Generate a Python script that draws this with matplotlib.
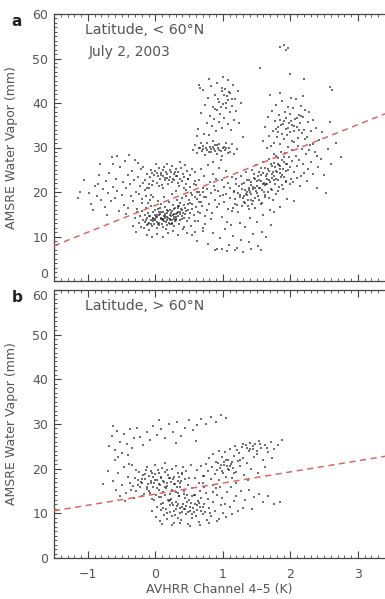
import numpy as np
import matplotlib
matplotlib.use("Agg")
import matplotlib.pyplot as plt
from matplotlib.ticker import MultipleLocator

# ---------------- data ----------------
# panel a (latitude < 60N), points (AVHRR ch4-5 [K], AMSRE WV [mm])
a_core = [
(-0.24,13.1),(-0.22,14.6),(-0.21,12.2),(-0.19,15.8),(-0.18,13.7),(-0.17,11.9),(-0.16,14.9),(-0.15,13.3),(-0.14,16.4),(-0.13,12.6),
(-0.12,14.1),(-0.11,15.2),(-0.10,13.0),(-0.09,11.4),(-0.08,14.5),(-0.07,16.8),(-0.06,13.8),(-0.05,12.3),(-0.04,15.5),(-0.03,14.2),
(-0.02,12.9),(-0.01,13.6),(0.00,15.9),(0.01,14.4),(0.02,11.8),(0.03,13.2),(0.04,16.2),(0.05,14.8),(0.06,12.5),(0.07,15.1),
(0.08,13.9),(0.09,17.3),(0.10,14.0),(0.11,12.2),(0.12,15.6),(0.13,13.4),(0.14,16.6),(0.15,14.7),(0.16,11.7),(0.17,13.8),
(0.18,15.3),(0.19,14.1),(0.20,17.8),(0.21,12.8),(0.22,16.0),(0.23,14.5),(0.24,13.1),(0.25,15.8),(0.26,17.1),(0.27,14.3),
(0.28,12.4),(0.29,16.5),(0.30,15.0),(0.31,13.7),(0.32,18.2),(0.33,16.9),(0.34,14.6),(0.35,12.9),(0.36,15.4),(0.37,17.6),
(0.38,16.1),(0.39,13.9),(0.40,18.6),(0.41,15.2),(0.42,17.0),(0.43,14.2),(0.44,16.4),(0.45,19.1),(0.46,15.7),(0.47,13.5),
(0.48,17.4),(0.49,16.0),(0.50,18.3),(0.52,15.3),(0.54,19.4),(0.55,17.2),(0.57,14.8),(0.58,18.8),(0.60,16.6),(0.62,19.9),
(-0.09,14.7),(-0.03,13.4),(0.02,14.9),(0.06,13.1),(0.09,15.4),(0.13,14.6),(0.16,13.3),(0.19,15.7),(0.22,14.0),(0.25,13.6),
(0.28,15.1),(0.31,14.4),(0.34,16.3),(0.37,15.0),(-0.06,12.8),(0.00,13.9),(0.04,12.7),(0.08,14.2),(0.11,13.6),(0.14,15.0),
(0.17,14.4),(0.20,13.0),(0.23,15.3),(0.26,14.8),(0.29,13.4),(0.33,15.6),(0.36,13.8),(0.40,15.9),(-0.14,13.8),(-0.01,14.8),
(0.05,15.5),(0.10,12.9),(0.15,14.1),(0.18,16.0),(0.21,14.9),(0.24,12.7),(0.27,16.2),(0.30,14.0),(0.35,16.8),(0.39,14.7),
(-0.11,12.9),(-0.04,14.0),(0.03,14.3),(0.07,16.4),(0.12,13.9),(0.17,12.6),(0.22,13.6),(0.27,13.9),(0.32,15.3),(0.44,15.0),
(-0.33,12.4),(-0.30,14.1),(-0.28,10.9),(-0.27,16.2),(-0.12,10.4),(-0.05,10.0),(0.03,10.6),(0.11,9.9),(0.19,10.8),(0.26,11.2),
(0.33,10.3),(0.41,11.6),(0.47,10.7),(0.53,12.3),(0.58,11.1),(0.63,13.4),(0.66,15.2),(0.68,17.7),(0.70,12.0),(-0.20,17.5),
(-0.08,18.1),(0.04,17.9),(0.13,18.8),(0.24,19.6),(0.31,20.2),(0.43,20.8),(0.51,21.2),(0.60,21.5),(0.65,20.1),(0.72,18.9),
]
a_upper_left = [
(-0.15,22.8),(-0.12,24.1),(-0.10,21.9),(-0.08,23.3),(-0.06,25.0),(-0.04,22.4),(-0.02,23.9),(0.00,24.7),(0.02,22.1),(0.04,23.5),
(0.05,25.3),(0.07,22.9),(0.09,24.2),(0.10,21.6),(0.12,23.7),(0.13,25.6),(0.15,22.6),(0.16,24.5),(0.18,23.1),(0.19,21.8),
(0.21,24.9),(0.22,23.4),(0.24,22.3),(0.25,25.9),(0.27,24.0),(0.28,22.8),(0.30,23.6),(0.31,25.2),(0.33,22.0),(0.34,24.4),
(0.36,23.0),(0.38,25.5),(0.39,22.5),(0.41,24.1),(0.43,23.3),(0.45,21.7),(0.47,24.8),(0.49,22.9),(0.52,23.8),(0.55,25.1),
(0.03,24.3),(0.08,23.8),(0.11,24.9),(0.14,23.2),(0.17,24.0),(0.20,22.7),(0.23,24.6),(0.26,23.0),(0.29,24.5),(0.32,23.5),
(-0.05,24.3),(0.06,21.4),(0.18,26.3),(0.35,21.4),(0.44,26.0),(-0.18,25.6),(0.58,22.4),(0.01,26.2),(0.37,26.7),(0.12,20.9),
]
a_left = [
(-1.15,18.6),(-1.12,20.1),(-0.98,19.7),(-0.95,17.2),(-0.90,21.4),(-0.87,19.0),(-0.84,23.8),(-0.80,18.1),(-0.78,20.6),(-0.75,16.7),
(-0.73,22.5),(-0.70,19.8),(-0.68,24.3),(-0.66,17.9),(-0.64,27.8),(-0.62,21.1),(-0.60,18.6),(-0.58,23.0),(-0.56,20.3),(-0.54,15.8),
(-0.52,25.6),(-0.50,19.4),(-0.48,22.2),(-0.47,17.1),(-0.45,26.9),(-0.43,20.8),(-0.41,23.9),(-0.40,16.4),(-0.38,21.7),(-0.36,19.1),
(-0.35,24.8),(-0.33,18.0),(-0.31,22.6),(-0.30,27.3),(-0.29,20.0),(-0.27,15.6),(-0.26,23.4),(-0.24,19.6),(-0.22,21.3),(-0.21,25.1),
(-0.19,18.4),(-0.18,22.1),(-0.16,20.4),(-0.14,19.2),(-0.13,21.0),(-0.11,17.6),(-0.09,20.8),(-0.07,19.4),(-0.05,21.5),(-0.03,18.9),
(-0.92,15.9),(-0.82,26.2),(-0.71,14.9),(-0.57,28.1),(-0.44,15.1),(-1.05,22.7),(-0.62,26.4),(-0.39,28.3),(-0.25,26.6),(-0.85,21.8),
]
a_middle = [
(0.46,20.5),(0.48,22.9),(0.50,14.2),(0.53,19.8),(0.55,16.1),(0.57,21.7),(0.59,24.4),(0.61,18.4),(0.63,15.6),(0.64,22.8),
(0.66,19.3),(0.68,25.2),(0.69,16.9),(0.71,21.0),(0.72,23.6),(0.74,14.7),(0.75,18.9),(0.77,20.6),(0.78,26.0),(0.80,17.4),
(0.81,22.3),(0.83,19.7),(0.84,15.3),(0.86,24.1),(0.87,21.4),(0.89,18.1),(0.90,23.0),(0.92,16.6),(0.93,20.2),(0.95,25.5),
(0.96,19.0),(0.98,22.6),(0.99,14.4),(1.01,17.8),(1.02,21.1),(1.04,24.7),(1.05,19.5),(1.07,16.2),(1.08,22.0),(1.10,18.6),
(1.11,20.9),(1.13,15.8),(1.14,23.3),(1.16,19.9),(1.18,17.3),(1.19,21.8),(0.52,17.6),(0.58,13.5),(0.65,17.8),(0.70,19.9),
(0.76,16.0),(0.82,13.9),(0.88,20.4),(0.94,17.2),(1.00,19.3),(1.06,13.2),(1.12,12.6),(0.73,12.8),(0.85,26.8),(0.97,27.1),
]
a_plume = [
(0.56,29.4),(0.59,30.6),(0.62,28.7),(0.64,29.9),(0.67,31.1),(0.69,29.2),(0.71,30.3),(0.73,28.4),(0.75,29.8),(0.77,30.9),
(0.79,29.0),(0.81,30.1),(0.83,28.9),(0.85,31.4),(0.87,29.6),(0.89,30.5),(0.91,28.6),(0.93,29.9),(0.95,30.8),(0.97,29.3),
(0.99,28.2),(1.01,30.2),(1.03,29.5),(1.05,31.0),(1.07,28.8),(1.09,30.0),(1.11,29.1),(1.14,30.7),(1.17,28.5),(1.21,29.7),
(0.70,29.6),(0.76,29.4),(0.82,29.7),(0.88,29.2),(0.94,29.5),(1.00,29.8),(0.66,30.0),(0.86,30.2),(0.92,30.6),(1.04,29.9),
(0.63,34.2),(0.68,37.8),(0.70,42.9),(0.72,33.1),(0.74,39.6),(0.76,35.4),(0.78,41.2),(0.80,32.7),(0.81,37.1),(0.83,43.8),
(0.84,34.9),(0.86,39.0),(0.87,36.3),(0.88,41.9),(0.90,33.6),(0.91,38.4),(0.92,44.5),(0.94,35.8),(0.95,40.3),(0.96,37.5),
(0.98,42.6),(0.99,34.3),(1.00,39.8),(1.02,36.7),(1.03,43.1),(1.04,38.9),(1.06,41.5),(1.07,35.2),(1.08,40.7),(1.10,37.9),
(1.11,42.2),(1.12,33.9),(1.14,39.3),(1.15,44.0),(1.16,36.1),(1.18,41.0),(1.20,38.2),(1.22,42.8),(1.24,35.6),(1.27,40.1),
(0.93,41.0),(0.97,39.2),(1.01,41.8),(1.05,40.0),(1.09,42.5),(1.13,40.9),(0.89,38.6),(0.99,43.4),(0.66,43.4),(0.64,44.1),
(1.00,45.8),(1.07,45.2),(0.79,45.5),(1.30,32.3),(0.61,32.5),
]
a_right = [
(1.15,16.4),(1.16,20.2),(1.18,18.5),(1.19,22.9),(1.21,17.1),(1.22,19.8),(1.23,15.6),(1.24,21.3),(1.26,18.9),(1.27,23.7),
(1.28,16.8),(1.29,20.6),(1.31,19.2),(1.32,22.1),(1.33,17.5),(1.34,24.4),(1.36,20.0),(1.37,18.2),(1.38,22.8),(1.39,16.1),
(1.41,21.5),(1.42,19.6),(1.43,25.0),(1.44,17.9),(1.46,23.2),(1.47,20.8),(1.48,18.6),(1.49,26.1),(1.51,22.4),(1.52,19.1),
(1.53,24.6),(1.54,21.0),(1.56,17.4),(1.57,23.8),(1.58,20.4),(1.59,26.8),(1.61,22.0),(1.62,18.8),(1.63,25.3),(1.64,21.7),
(1.66,24.0),(1.67,19.9),(1.68,27.4),(1.69,22.6),(1.71,20.7),(1.72,25.9),(1.73,23.1),(1.74,18.3),(1.76,26.5),(1.77,21.9),
(1.78,24.8),(1.79,28.2),(1.81,22.8),(1.82,20.3),(1.83,26.0),(1.84,24.3),(1.86,29.0),(1.87,21.6),(1.88,27.3),(1.89,25.1),
(1.91,23.4),(1.92,28.7),(1.93,26.3),(1.94,22.2),(1.96,30.1),(1.97,24.9),(1.98,27.8),(1.99,25.6),(2.01,23.0),(2.02,29.4),
(2.03,26.9),(2.05,24.5),(2.06,31.2),(2.08,28.0),(2.09,25.8),(2.11,30.3),(2.13,27.1),(2.15,23.7),(2.17,29.6),(2.19,26.4),
(2.21,31.8),(2.23,28.5),(2.26,25.2),(2.29,30.6),
(1.30,18.7),(1.33,20.4),(1.35,19.3),(1.38,21.0),(1.40,19.9),(1.42,22.2),(1.45,20.6),(1.47,22.9),(1.50,21.4),(1.52,23.5),
(1.55,20.9),(1.57,22.5),(1.60,24.2),(1.62,21.6),(1.65,23.0),(1.67,25.1),(1.70,22.3),(1.72,24.1),(1.75,23.5),(1.77,25.7),
(1.80,24.6),(1.82,26.4),(1.85,25.2),(1.88,23.9),(1.90,26.8),(1.93,24.7),(1.36,22.6),(1.41,18.1),(1.46,24.0),(1.51,19.7),
(1.56,25.5),(1.61,20.1),(1.66,21.8),(1.71,26.3),(1.76,22.7),(1.81,27.6),(1.86,23.3),(1.91,27.9),(1.44,21.1),(1.54,22.7),
(1.64,23.6),(1.74,24.4),(1.84,25.8),(1.34,19.5),(1.59,21.8),(1.69,24.7),(1.79,23.0),(1.49,20.3),(1.39,20.5),(1.95,26.2),
(1.25,19.4),(1.28,21.8),(1.32,17.8),(1.37,16.9),(1.43,17.2),(1.48,16.4),(1.53,18.1),(1.58,17.6),(1.63,19.3),(1.68,18.6),
(1.73,20.5),(1.78,19.6),(1.83,21.2),(1.89,20.6),(1.94,22.5),(2.00,21.8),(2.04,22.3),(2.10,23.1),(2.14,21.4),(2.20,24.2),
]
a_upper_right = [
(1.60,31.5),(1.63,34.7),(1.65,29.8),(1.67,36.9),(1.69,32.6),(1.71,30.4),(1.72,38.3),(1.74,33.8),(1.76,31.1),(1.77,35.9),
(1.79,39.6),(1.80,32.3),(1.81,34.5),(1.83,37.2),(1.84,30.7),(1.85,36.1),(1.87,33.0),(1.88,40.4),(1.89,35.3),(1.90,31.8),
(1.92,38.0),(1.93,34.1),(1.94,36.7),(1.95,32.9),(1.97,39.1),(1.98,35.6),(1.99,33.4),(2.00,37.6),(2.02,31.4),(2.03,35.0),
(2.04,38.8),(2.06,33.7),(2.07,36.4),(2.08,40.9),(2.10,34.6),(2.11,32.1),(2.12,37.3),(2.14,35.4),(2.15,39.4),(2.17,33.2),
(2.18,36.8),(2.20,34.0),(2.22,38.5),(2.24,32.4),(2.26,35.8),(2.28,37.9),(2.31,33.6),(2.34,36.2),(2.38,34.4),(2.43,31.6),
(1.86,35.0),(1.91,36.0),(1.96,34.3),(2.01,35.9),(2.05,34.8),(2.09,36.6),(1.82,33.5),(1.78,34.2),(2.13,33.9),(2.16,37.0),
(1.70,41.7),(1.85,42.3),(2.01,41.2),(2.19,41.6),(1.75,28.6),(2.27,29.4),(2.33,30.8),(2.40,28.1),
(2.24,22.5),(2.30,26.8),(2.34,24.1),(2.37,28.9),(2.41,25.7),(2.45,27.4),(2.50,23.8),(2.55,29.7),(2.60,26.2),(2.68,31.0),
(2.47,33.5),(2.58,35.8),(2.75,27.9),(2.40,21.0),(2.52,19.8),
(1.85,52.6),(1.90,53.1),(1.94,51.8),(1.97,52.4),(1.99,46.5),(2.62,42.9),(2.58,43.7),(1.55,47.9),(2.20,45.5),
]
a_low = [
(0.42,12.1),(0.55,10.4),(0.62,9.1),(0.71,11.3),(0.78,8.4),(0.86,10.8),(0.91,7.2),(0.96,9.6),(1.03,11.7),(1.09,8.0),
(1.15,10.2),(1.21,7.5),(1.27,9.3),(1.33,12.2),(1.38,8.7),(1.45,10.6),(1.52,7.9),(1.58,11.0),(1.64,9.8),(1.71,12.5),
(0.88,6.9),(0.98,7.1),(1.06,6.8),(1.18,7.0),(1.30,6.6),(1.41,7.3),(1.56,6.9),(1.25,13.1),(1.40,14.2),(1.60,14.8),
(1.50,13.3),(1.75,15.5),(1.85,16.6),(1.95,18.4),(2.05,17.9),(1.70,16.0),
]

# panel b (latitude > 60N)
b_band = [
(-0.68,25.1),(-0.64,27.3),(-0.60,24.2),(-0.57,28.4),(-0.53,26.0),(-0.50,23.5),(-0.46,27.8),(-0.42,25.6),(-0.38,28.9),(-0.35,24.7),
(-0.31,26.8),(-0.27,29.2),(-0.22,27.0),(-0.18,25.3),(-0.13,28.1),(-0.08,26.4),(-0.03,29.5),(0.02,27.6),(0.08,28.8),(0.14,26.9),
(0.20,29.9),(0.26,28.2),(0.32,30.4),(0.38,27.4),(0.44,29.0),(0.50,30.8),(0.56,28.6),(0.62,29.7),(0.68,31.2),(0.75,30.1),
(0.82,31.6),(0.90,30.5),(0.97,32.0),(1.04,31.3),(-0.55,22.6),(-0.40,23.0),(0.05,31.0),(0.30,25.7),(-0.62,29.5),(0.60,26.3),
]
b_upper = [
(-0.33,16.2),(-0.30,18.0),(-0.28,14.9),(-0.26,17.4),(-0.24,19.3),(-0.22,15.8),(-0.20,16.9),(-0.18,18.6),(-0.17,14.3),(-0.15,17.7),
(-0.14,19.8),(-0.12,15.5),(-0.11,16.6),(-0.09,18.3),(-0.08,14.6),(-0.06,17.2),(-0.05,19.0),(-0.03,15.9),(-0.02,16.8),(0.00,18.8),
(0.01,14.1),(0.03,17.5),(0.04,19.6),(0.06,15.3),(0.07,16.4),(0.09,18.1),(0.10,20.2),(0.12,14.8),(0.13,17.0),(0.15,19.2),
(0.16,15.7),(0.18,16.9),(0.19,18.5),(0.21,14.4),(0.22,17.8),(0.24,19.9),(0.25,15.2),(0.27,16.5),(0.28,18.2),(0.30,20.6),
(0.31,14.7),(0.33,17.3),(0.34,19.0),(0.36,15.9),(0.37,16.7),(0.39,18.7),(0.41,20.3),(0.42,15.1),(0.44,17.6),(0.46,19.4),
(0.48,16.3),(0.50,18.0),(0.53,20.8),(0.55,15.6),(0.58,17.9),(0.61,19.7),(0.64,16.8),(0.67,20.5),(0.70,18.4),(-0.36,15.3),
(-0.25,16.4),(-0.19,17.6),(-0.13,16.0),(-0.07,16.9),(-0.01,17.4),(0.05,16.6),(0.11,17.3),(0.17,16.2),(0.23,17.0),(0.29,16.6),
(0.35,18.1),(-0.16,18.9),(-0.04,18.2),(0.08,17.9),(0.20,18.0),(0.32,16.0),(-0.10,15.1),(0.02,15.6),(0.14,15.9),(0.26,17.7),
(0.38,17.2),(-0.21,17.0),(-0.07,19.5),(0.06,19.1),(0.18,19.7),(0.40,19.0),(-0.29,19.6),(-0.12,20.4),(0.00,20.9),(0.15,21.3),
(-0.31,13.5),(-0.19,13.9),(-0.05,13.2),(0.09,13.6),(0.22,13.0),(0.35,13.8),(0.47,14.2),(0.57,14.0),(0.66,14.9),(0.72,16.0),
(-0.63,17.3),(-0.58,15.2),(-0.55,19.1),(-0.50,16.4),(-0.47,20.3),(-0.44,14.6),(-0.41,18.2),(-0.39,21.0),(-0.37,16.8),(-0.45,12.8),
(-0.34,20.9),(-0.52,13.9),(-0.70,19.4),(-0.78,16.5),(-0.60,22.0),
]
b_lower = [
(-0.05,10.6),(-0.02,12.9),(0.01,9.1),(0.03,11.4),(0.05,13.6),(0.07,8.3),(0.09,10.7),(0.11,12.3),(0.13,9.6),(0.15,14.0),
(0.16,11.0),(0.18,8.8),(0.20,12.7),(0.21,10.2),(0.23,13.3),(0.25,9.4),(0.26,11.8),(0.28,7.9),(0.30,10.9),(0.31,12.6),
(0.33,9.0),(0.35,13.9),(0.36,11.2),(0.38,8.5),(0.40,10.4),(0.41,12.1),(0.43,14.3),(0.45,9.8),(0.46,11.6),(0.48,7.7),
(0.50,13.0),(0.51,10.6),(0.53,12.4),(0.55,8.9),(0.56,11.3),(0.58,14.1),(0.60,9.5),(0.61,10.8),(0.63,12.8),(0.65,8.1),
(0.66,11.5),(0.68,13.5),(0.70,9.9),(0.72,12.0),(0.74,10.3),(0.76,8.6),(0.78,13.2),(0.80,11.1),(0.83,9.3),(0.86,12.6),
(0.88,10.5),(0.91,14.0),(0.94,8.8),(0.97,11.8),(1.00,10.0),(0.12,11.3),(0.17,10.0),(0.22,11.9),(0.27,10.6),(0.32,11.6),
(0.37,10.1),(0.42,11.0),(0.47,12.6),(0.52,11.5),(0.57,10.3),(0.62,11.9),(0.67,10.6),(0.24,12.4),(0.34,12.1),(0.44,10.9),
(0.54,9.9),(0.64,12.3),(0.29,9.7),(0.39,11.4),(0.49,10.2),(0.59,12.0),(0.19,13.0),(0.08,12.0),(0.71,11.4),(0.81,10.1),
(0.10,7.6),(0.24,7.3),(0.37,7.8),(0.52,7.2),(0.66,7.5),(0.79,7.9),(0.92,8.3),(1.05,9.2),(1.10,11.4),(1.16,12.7),
(0.44,13.4),(0.55,13.8),(0.75,14.5),(0.85,14.8),(0.33,14.6),
]
b_right = [
(0.72,18.4),(0.75,21.0),(0.78,19.5),(0.80,22.4),(0.82,17.6),(0.84,20.3),(0.86,23.2),(0.88,18.9),(0.90,21.6),(0.92,19.8),
(0.94,24.0),(0.95,17.4),(0.97,20.9),(0.99,22.7),(1.00,19.1),(1.02,21.4),(1.03,23.8),(1.05,18.2),(1.06,20.6),(1.08,22.0),
(1.09,19.6),(1.11,24.5),(1.12,21.1),(1.14,17.9),(1.15,20.1),(1.17,22.9),(1.18,25.1),(1.20,19.3),(1.22,21.7),(1.24,23.6),
(1.26,20.5),(1.28,24.9),(1.30,22.3),(1.32,18.6),(1.34,25.4),(1.36,21.2),(1.38,23.9),(1.40,25.8),(1.42,20.0),(1.44,24.3),
(1.46,22.6),(1.48,25.6),(1.51,23.2),(1.54,26.1),(1.57,24.7),(1.60,21.9),(1.63,25.3),(1.67,23.8),(1.71,26.0),(1.76,24.4),
(0.96,20.2),(1.01,20.8),(1.04,21.9),(1.07,19.9),(1.10,20.5),(1.13,21.6),(0.93,21.3),(0.98,19.4),(1.16,19.0),(1.25,22.0),
(1.35,24.6),(1.45,25.0),(1.55,25.5),(1.65,24.6),(1.50,24.0),(1.40,24.5),(1.30,25.6),(1.21,24.2),(1.82,25.2),(1.88,26.4),
(0.85,16.3),(0.70,16.9),(1.19,16.8),(1.37,17.5),(1.52,19.0),(1.62,20.3),(1.73,22.5),
(0.90,15.6),(0.98,13.4),(1.06,14.7),(1.12,15.9),(1.20,13.8),(1.27,14.9),(1.33,12.9),(1.39,15.3),(1.46,13.7),(1.53,14.4),
(1.60,12.5),(1.67,13.9),(1.75,12.2),(1.85,12.6),(1.22,10.6),(1.30,11.2),(1.43,10.9),(1.03,12.2),(1.14,9.8),(0.96,15.8),
]

# fitted regression lines (intercept, slope)
fit_a = (17.0, 6.05)
fit_b = (14.3, 2.49)

panel_letters = ["a", "b"]
panel_titles = ["Latitude, < 60°N", "Latitude, > 60°N"]
date_text = "July 2, 2003"
x_label = "AVHRR Channel 4\u20135 (K)"
y_label = "AMSRE Water Vapor (mm)"
x_range = (-1.5, 3.4)
y_range = (0, 60)
y_ticks = [0, 10, 20, 30, 40, 50, 60]

panel_a_points = a_core + a_upper_left + a_left + a_middle + a_plume + a_right + a_upper_right + a_low
panel_b_points = b_band + b_upper + b_lower + b_right

# ---------------- drawing ----------------
plt.rcParams["font.family"] = ["DejaVu Sans"]
W, H = 385, 599
fig = plt.figure(figsize=(W / 100, H / 100), dpi=100)


def rect(l, t, r, b):
    return [l / W, 1 - b / H, (r - l) / W, (b - t) / H]


ax_a = fig.add_axes(rect(54, 14, 385, 281))
ax_b = fig.add_axes(rect(54, 290, 385, 558))
txt = "#555555"

for ax, pts, fit, title, letter in [
    (ax_a, panel_a_points, fit_a, panel_titles[0], panel_letters[0]),
    (ax_b, panel_b_points, fit_b, panel_titles[1], panel_letters[1]),
]:
    xs = [p[0] for p in pts]
    ys = [p[1] for p in pts]
    ax.scatter(xs, ys, s=2.6, marker="s", c="#111111", alpha=0.6, linewidths=0, zorder=2)
    xl = np.array(x_range)
    ax.plot(xl, fit[0] + fit[1] * xl, color="#d46a6a", lw=1.1, ls=(0, (4, 3)), zorder=3)
    ax.set_xlim(*x_range)
    ax.set_ylim(*y_range)
    ax.xaxis.set_major_locator(MultipleLocator(1))
    ax.xaxis.set_minor_locator(MultipleLocator(0.1))
    ax.set_yticks(y_ticks)
    ax.yaxis.set_minor_locator(MultipleLocator(1))
    ax.tick_params(which="both", direction="in", top=True, right=False,
                   color="#444444", labelcolor=txt, labelsize=9)
    ax.tick_params(which="major", length=5, width=0.8)
    ax.tick_params(which="minor", length=2.5, width=0.6)
    ax.tick_params(axis="y", pad=4)
    ax.tick_params(axis="x", pad=7)
    ax.spines["right"].set_visible(False)
    for s in ["left", "top", "bottom"]:
        ax.spines[s].set_color("#444444")
        ax.spines[s].set_linewidth(0.9)
    ax.set_ylabel(y_label, fontsize=9, color=txt)
    ax.yaxis.set_label_coords(-0.108, 0.5)
    ax.text(0.095, 0.965, title, transform=ax.transAxes, fontsize=10.2,
            color=txt, ha="left", va="top")
    ax.text(-0.112, 1.0, letter, transform=ax.transAxes, fontsize=11,
            fontweight="bold", color="#222222", ha="center", va="top")

ax_a.text(0.105, 0.885, date_text, transform=ax_a.transAxes, fontsize=10,
          color=txt, ha="left", va="top")
ax_a.tick_params(axis="x", labelbottom=False)
# keep the end labels of the stacked panels apart (as in the reference)
ax_a.get_yticklabels()[0].set_va("bottom")
ax_b.get_yticklabels()[-1].set_va("top")

ax_b.set_xlabel(x_label, fontsize=9, color=txt)
ax_b.xaxis.set_label_coords(0.5, -(589 - 558) / (558 - 290))
ax_b.xaxis.label.set_va("center")

fig.savefig("out.png", dpi=100)
